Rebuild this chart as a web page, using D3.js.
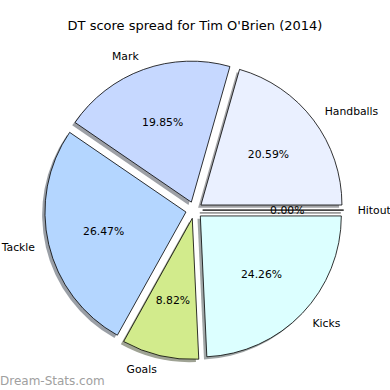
<!DOCTYPE html>
<html>
<head>
<meta charset="utf-8">
<script src="https://cdn.jsdelivr.net/npm/d3@7"></script>
<style>
    body { margin: 0; background: #fff; }
    text { font-family: "DejaVu Sans", sans-serif; fill: #000; }
</style>
</head>
<body>
<div id="pie"></div>
<script>
// DT points by stat (counter-clockwise from 3 o'clock, like matplotlib)
var categories = ["Handballs", "Mark", "Tackle", "Goals", "Kicks", "Hitout"];
var points = [28, 27, 36, 12, 33, 0];
var sliceColors = ["#eaf0ff", "#c6d8ff", "#b4d6ff", "#d2eb8c", "#dcffff", "#ffffff"];

var width = 390;
var height = 390;
var cx = 194.2;
var cy = 210.1;
var radius = 141;
var explode = 0.06 * radius;
var shadowOff = 0.02 * radius;

var svg = d3
    .select("#pie")
    .append("svg")
    .attr("width", width)
    .attr("height", height);

svg.append("text")
    .attr("x", 195)
    .attr("y", 30)
    .attr("text-anchor", "middle")
    .attr("font-size", 13)
    .text("DT score spread for Tim O'Brien (2014)");

var total = d3.sum(points);

var pie = d3
    .pie()
    .sort(null)
    .startAngle(Math.PI / 2)
    .endAngle(Math.PI / 2 - 2 * Math.PI);

var arc = d3.arc().innerRadius(0).outerRadius(radius);

var slices = pie(points).map(function(d, i) {
    var mid = (d.startAngle + d.endAngle) / 2;
    var dx = Math.sin(mid);
    var dy = -Math.cos(mid);
    return {
        arc: d,
        name: categories[i],
        color: sliceColors[i],
        value: points[i],
        dx: dx,
        dy: dy,
        ox: cx + explode * dx,
        oy: cy + explode * dy
    };
});

// shadows first, all behind the wedges
svg.append("g")
    .selectAll("path")
    .data(slices)
    .enter()
    .append("path")
    .attr("d", function(d) { return arc(d.arc); })
    .attr("transform", function(d) {
        return "translate(" + (d.ox - shadowOff) + "," + (d.oy + shadowOff) + ")";
    })
    .attr("fill", function(d) {
        var c = d3.rgb(d.color);
        return d3.rgb(c.r * 0.3, c.g * 0.3, c.b * 0.3);
    })
    .attr("fill-opacity", 0.5)
    .attr("stroke", function(d) { return d.value === 0 ? "#888" : "none"; })
    .attr("stroke-width", 1);

var wedges = svg.append("g")
    .selectAll("g")
    .data(slices)
    .enter()
    .append("g")
    .attr("transform", function(d) {
        return "translate(" + d.ox + "," + d.oy + ")";
    });

wedges.append("path")
    .attr("d", function(d) { return arc(d.arc); })
    .attr("fill", function(d) { return d.color; })
    .attr("stroke", "#000")
    .attr("stroke-width", 0.8)
    .attr("stroke-linejoin", "round");

// category labels at 1.1 r
wedges.append("text")
    .attr("x", function(d) { return 1.1 * radius * d.dx; })
    .attr("y", function(d) { return 1.1 * radius * d.dy; })
    .attr("dy", "0.35em")
    .attr("font-size", 10.8)
    .attr("text-anchor", function(d) { return d.dx > 0 ? "start" : "end"; })
    .text(function(d) { return d.name; });

// percentages at 0.6 r
wedges.append("text")
    .attr("x", function(d) { return 0.6 * radius * d.dx; })
    .attr("y", function(d) { return 0.6 * radius * d.dy; })
    .attr("dy", "0.35em")
    .attr("font-size", 10.8)
    .attr("text-anchor", "middle")
    .text(function(d) { return (d.value / total * 100).toFixed(2) + "%"; });

svg.append("text")
    .attr("x", 0)
    .attr("y", 385)
    .attr("font-size", 12)
    .style("fill", "#a0a0a0")
    .text("Dream-Stats.com");
</script>
</body>
</html>
